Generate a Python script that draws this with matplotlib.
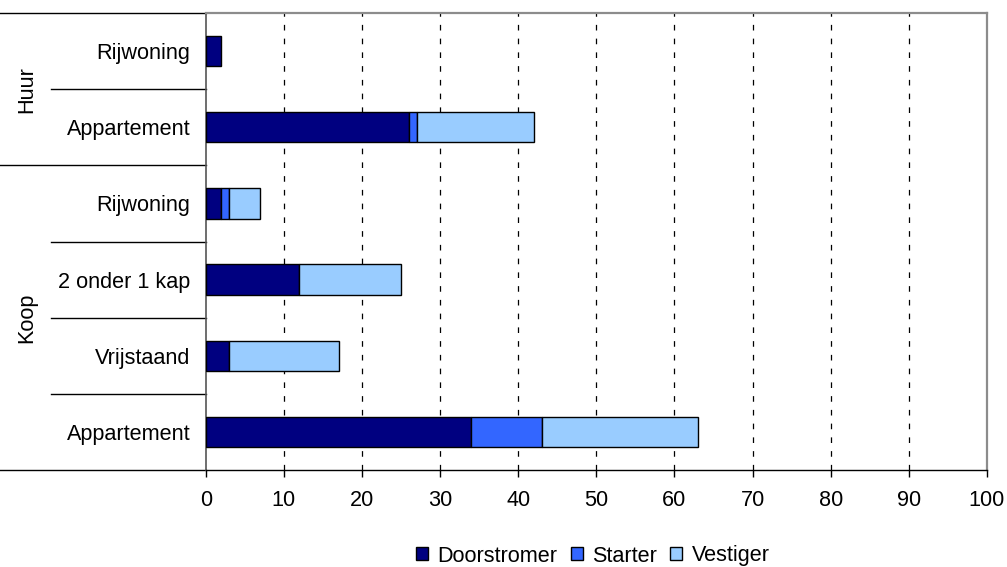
import matplotlib
matplotlib.use("Agg")
import matplotlib.pyplot as plt
import matplotlib.transforms as mtransforms
import numpy as np

plt.rcParams['font.family'] = ['Liberation Sans', 'DejaVu Sans']

# Rows from bottom to top
categories = ['Appartement', 'Vrijstaand', '2 onder 1 kap', 'Rijwoning', 'Appartement', 'Rijwoning']
groups = ['Koop', 'Koop', 'Koop', 'Koop', 'Huur', 'Huur']
series_names = ['Doorstromer', 'Starter', 'Vestiger']
doorstromer = [34, 3, 12, 2, 26, 2]
starter = [9, 0, 0, 1, 1, 0]
vestiger = [20, 14, 13, 4, 15, 0]
x_ticks = [0, 10, 20, 30, 40, 50, 60, 70, 80, 90, 100]

colors = ['#000080', '#3366FF', '#99CCFF']
FS = 15.6

W, H = 1007, 567
fig = plt.figure(figsize=(W / 100, H / 100), dpi=100)
ax_left, ax_right, ax_bottom, ax_top = 205.7, 987.0, 470.0, 13.0
ax = fig.add_axes([ax_left / W, 1 - ax_bottom / H, (ax_right - ax_left) / W, (ax_bottom - ax_top) / H])

y = np.arange(len(categories))
left = np.zeros(len(categories))
for name, vals, col in zip(series_names, [doorstromer, starter, vestiger], colors):
    vals = np.array(vals, dtype=float)
    mask = vals > 0
    ax.barh(y[mask], vals[mask], left=left[mask], height=0.4, color=col,
            edgecolor='black', linewidth=1.0, zorder=3, label=name)
    left = left + vals

ax.set_xlim(0, 100)
ax.set_ylim(-0.5, len(categories) - 0.5)
ax.set_xticks(x_ticks)
ax.set_xticklabels([str(t) for t in x_ticks], fontsize=FS)
ax.tick_params(axis='x', direction='out', length=5, width=1, color='black', pad=9.5)
ax.set_yticks(y)
ax.set_yticklabels(categories, fontsize=FS)
ax.tick_params(axis='y', direction='in', length=3, width=1, color='black', pad=11)

for xv in x_ticks[1:-1]:
    ax.axvline(xv, color='black', linewidth=0.9, linestyle=(0, (4.5, 6.5)), zorder=1)

for side in ['top', 'right']:
    ax.spines[side].set_color('#8c8c8c')
    ax.spines[side].set_linewidth(1.6)
ax.spines['left'].set_color('#555555')
ax.spines['left'].set_linewidth(1.2)
ax.spines['bottom'].set_color('black')
ax.spines['bottom'].set_linewidth(1.0)

# Category and group separators left of the axis
trans = mtransforms.blended_transform_factory(ax.transAxes, ax.transData)
group_x = -ax_left / (ax_right - ax_left)
cat_x = (50.7 - ax_left) / (ax_right - ax_left)
boundaries = np.arange(len(categories) + 1) - 0.5
for i, b in enumerate(boundaries):
    if i == 0 or i == len(categories):
        x0 = group_x
    else:
        x0 = group_x if groups[i - 1] != groups[i] else cat_x
    ax.plot([x0, 0], [b, b], color='black', linewidth=1.0, transform=trans, clip_on=False)

# Group labels
label_x = (27 - ax_left) / (ax_right - ax_left)
for g in dict.fromkeys(groups):
    idx = [i for i, gg in enumerate(groups) if gg == g]
    yc = (min(idx) + max(idx)) / 2
    ax.text(label_x, yc, g, rotation=90, ha='center', va='center', fontsize=FS, transform=trans)

leg = fig.legend(loc='center', bbox_to_anchor=(593 / W, 1 - 556 / H), ncol=3, frameon=False,
                 fontsize=FS, handlelength=0.55, handleheight=0.55, handletextpad=0.45,
                 columnspacing=0.6, borderpad=0)

fig.savefig('out.png', dpi=100)
